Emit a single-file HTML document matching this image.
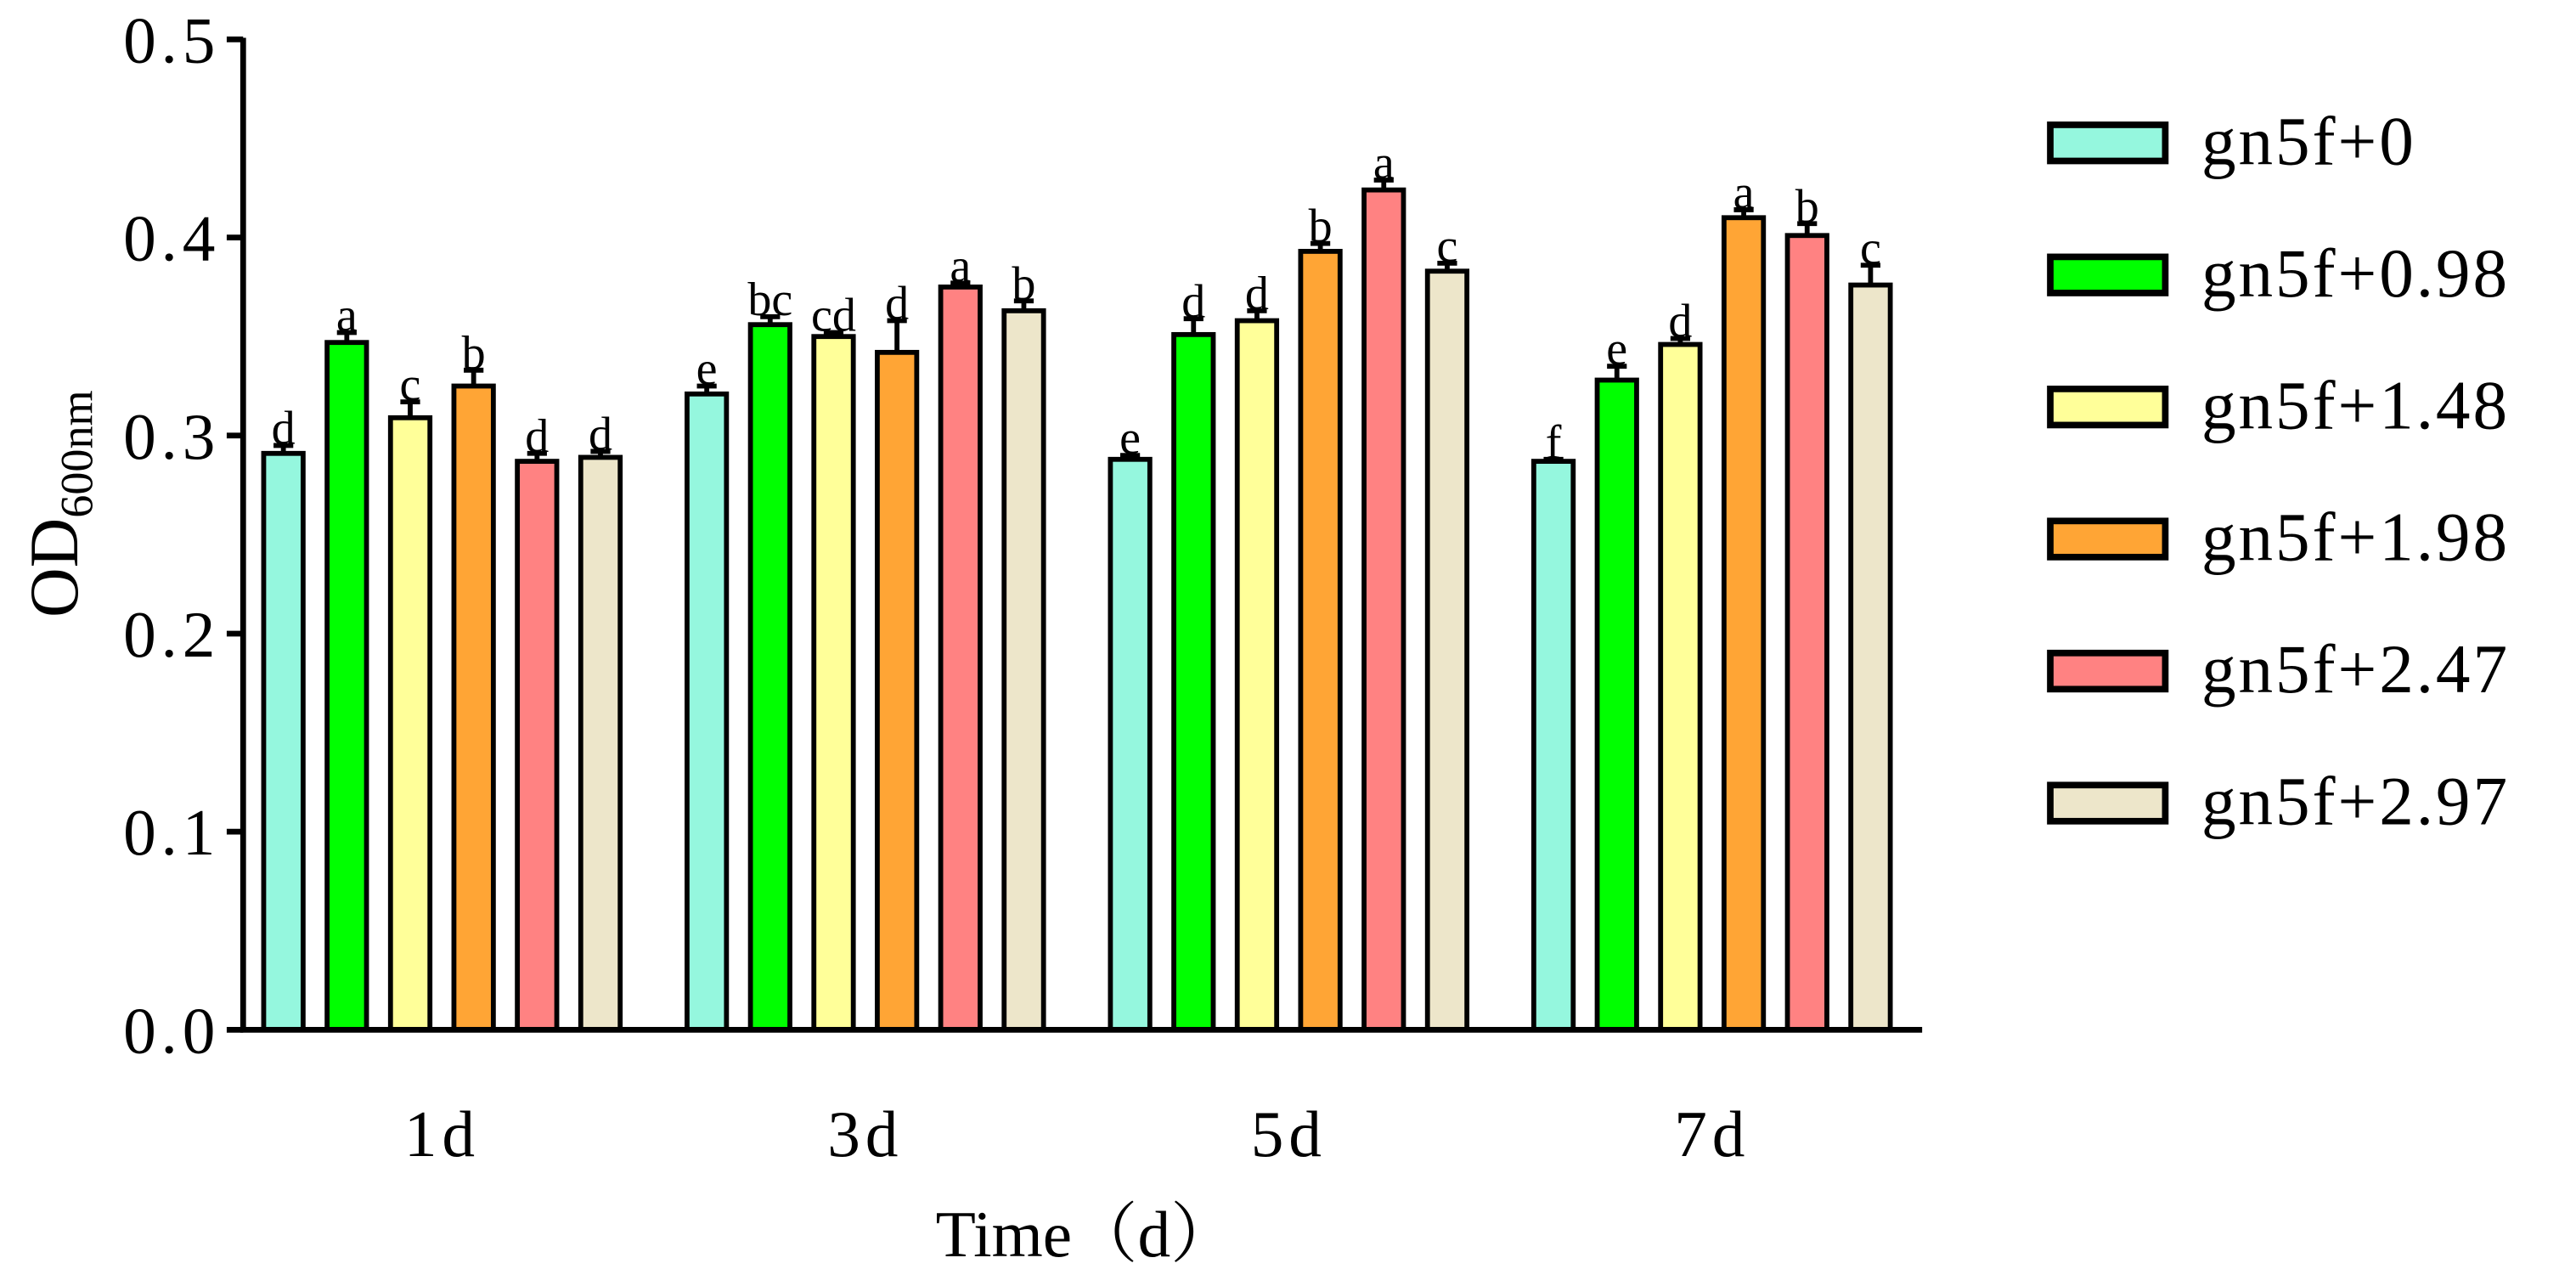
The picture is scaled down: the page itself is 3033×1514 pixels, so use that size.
<!DOCTYPE html>
<html><head><meta charset="utf-8"><style>
html,body{margin:0;padding:0;background:#fff;}
svg{display:block;}
text{font-family:"Liberation Serif","Noto Serif CJK SC",serif;}
</style></head><body>
<svg id="chart" width="3033" height="1514" viewBox="0 0 1568 783" preserveAspectRatio="none" xmlns="http://www.w3.org/2000/svg">
<g id="plot"></g>
</svg>
<script>
const categories = ["1d","3d","5d","7d"];
const seriesNames = ["gn5f+0","gn5f+0.98","gn5f+1.48","gn5f+1.98","gn5f+2.47","gn5f+2.97"];
const seriesColors = ["#95F7DE","#00FF00","#FFFF99","#FFA535","#FF8282","#EDE6CA"];
const s0 = [0.291,0.321,0.288,0.287];
const s1 = [0.347,0.356,0.351,0.328];
const s2 = [0.309,0.350,0.358,0.346];
const s3 = [0.325,0.342,0.393,0.410];
const s4 = [0.287,0.375,0.424,0.401];
const s5 = [0.289,0.363,0.383,0.376];
const e0 = [0.004,0.004,0.002,0.001];
const e1 = [0.005,0.004,0.008,0.007];
const e2 = [0.008,0.002,0.005,0.003];
const e3 = [0.008,0.016,0.004,0.004];
const e4 = [0.004,0.002,0.005,0.006];
const e5 = [0.003,0.005,0.004,0.010];
const l0 = ["d","e","e","f"];
const l1 = ["a","bc","d","e"];
const l2 = ["c","cd","d","d"];
const l3 = ["b","d","b","a"];
const l4 = ["d","a","a","b"];
const l5 = ["d","b","c","c"];
const yTicks = [0,0.1,0.2,0.3,0.4,0.5];
const yTickLabels = ["0.0","0.1","0.2","0.3","0.4","0.5"];

const values=[s0,s1,s2,s3,s4,s5], errs=[e0,e1,e2,e3,e4,e5], letters=[l0,l1,l2,l3,l4,l5];
const NS="http://www.w3.org/2000/svg";
const g=document.getElementById('plot');
const X0=148, X1=1170, Y0=627, Y1=24, yMax=0.5;
const y=v=>Y0-(v/yMax)*(Y0-Y1);
const groupCenter=i=>269+i*257.7;
const barW=24, pitch=38.6;
const barX=(i,s)=>groupCenter(i)+(s-2.5)*pitch-barW/2;
function el(tag,attrs,text){const e=document.createElementNS(NS,tag);for(const k in attrs)e.setAttribute(k,attrs[k]);if(text!==undefined)e.textContent=text;g.appendChild(e);return e;}

categories.forEach((c,i)=>{
  values.forEach((arr,s)=>{
    const v=arr[i], x=barX(i,s), top=y(v);
    const r=el('rect',{x:x,y:top,width:barW,height:Y0-top,fill:seriesColors[s],stroke:'#000','stroke-width':3});
    
    
    const cx=x+barW/2, et=y(v+errs[s][i]);
    const eb=el('path',{d:`M${cx},${top}V${et}M${cx-6},${et}H${cx+6}`,stroke:'#000','stroke-width':3,fill:'none'});
    
    
    const t=el('text',{x:cx,y:et-1,'text-anchor':'middle','font-size':29},letters[s][i]);
    
    
  });
  const cl=el('text',{x:groupCenter(i),y:704,'text-anchor':'middle','font-size':40,'letter-spacing':3},c);
  
  
});

const ax=el('path',{d:`M${X0},${Y1-1}V${Y0}H${X1}`,stroke:'#000','stroke-width':3.5,fill:'none'});


yTicks.forEach((t,k)=>{
  const tk=el('path',{d:`M${X0-10},${y(t)}H${X0}`,stroke:'#000','stroke-width':3.5});
  
  
  const tl=el('text',{x:134,y:y(t)+14,'text-anchor':'end','font-size':40,'letter-spacing':3},yTickLabels[k]);
  
  
});
const xt=el('text',{x:661,y:765,'text-anchor':'middle','font-size':40},'Time（d）');


const yt=el('text',{x:0,y:0,'font-size':42,transform:'translate(47,376) rotate(-90)'});


yt.innerHTML='OD<tspan font-size="28" dy="9">600nm</tspan>';

seriesNames.forEach((n,s)=>{
  const ly=87+s*80.4;
  const sw=el('rect',{x:1248,y:ly-11,width:70,height:22,fill:seriesColors[s],stroke:'#000','stroke-width':4});
  
  
  const lt=el('text',{x:1340,y:ly+13,'font-size':42,'letter-spacing':1.5},n);
  
  
});
</script>
</body></html>
